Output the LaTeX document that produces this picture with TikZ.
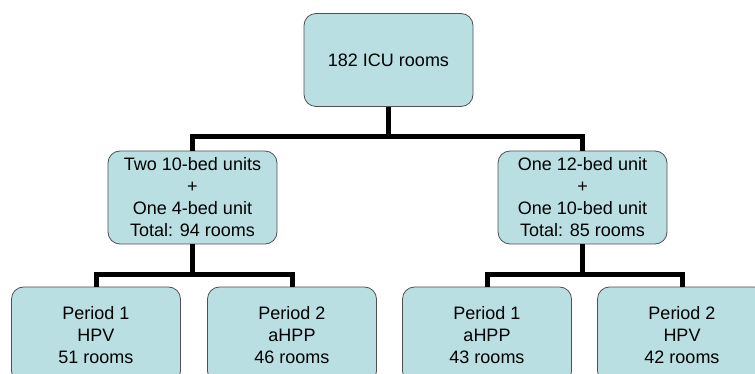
\documentclass[tikz,border=0pt]{standalone}
\usepackage{fontspec}
\setmainfont{Liberation Sans}
\usepackage{tikz}
\definecolor{boxfill}{RGB}{185,223,226}
\definecolor{boxline}{RGB}{80,80,80}

\begin{document}
\begin{tikzpicture}[x=1pt,y=-1pt]
    \tikzstyle{roombox} = [draw=boxline,line width=0.8pt,fill=boxfill,rounded corners=12pt,
        minimum width=169pt,minimum height=93pt,inner sep=0pt,align=center,
        font=\fontsize{18}{22}\selectfont]
    \tikzstyle{periodbox} = [roombox,minimum height=96pt]
    \tikzstyle{branch} = [line width=5pt]

    \useasboundingbox (0,0) rectangle (755,374);
    \clip (0,0) rectangle (755,374);

    % top
    \node[roombox] (icu) at (388.5,60) {182 ICU rooms};

    % units
    \node[roombox] (twoten) at (192.5,197.5) {Two 10-bed units\\+\\One 4-bed unit\\Total: 94 rooms};
    \node[roombox] (onetwelve) at (582.5,197.5) {One 12-bed unit\\+\\One 10-bed unit\\Total: 85 rooms};

    % periods
    \node[periodbox] (lperone) at (96,335) {Period 1\\HPV\\51 rooms};
    \node[periodbox] (lpertwo) at (292,335) {Period 2\\aHPP\\46 rooms};
    \node[periodbox] (rperone) at (487,335) {Period 1\\aHPP\\43 rooms};
    \node[periodbox] (rpertwo) at (682,335) {Period 2\\HPV\\42 rooms};

    % connectors
    \draw[branch] (icu.south) -- ++(0,30) -| (twoten.north);
    \draw[branch] (icu.south) -- ++(0,30) -| (onetwelve.north);
    \draw[branch] (twoten.south) -- ++(0,30) -| (lperone.north);
    \draw[branch] (twoten.south) -- ++(0,30) -| (lpertwo.north);
    \draw[branch] (onetwelve.south) -- ++(0,30) -| (rperone.north);
    \draw[branch] (onetwelve.south) -- ++(0,30) -| (rpertwo.north);
\end{tikzpicture}
\end{document}
